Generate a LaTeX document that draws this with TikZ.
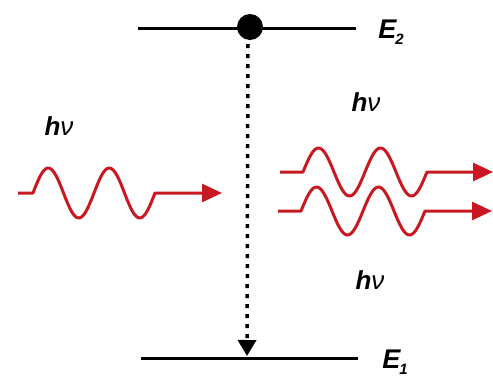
\documentclass[tikz,border=0pt]{standalone}
\usepackage{fontspec}
\setmainfont{Liberation Sans}
\usetikzlibrary{arrows.meta}
\definecolor{wavered}{RGB}{200,25,35}
\tikzset{
  level/.style={line width=3pt, black},
  wave/.style={line width=3pt, wavered, line join=round, -{Triangle[length=20pt,width=18pt]}},
  lab/.style={font=\fontsize{26}{26}\selectfont},
  elab/.style={font=\fontsize{27}{27}\selectfont\bfseries\itshape}
}
\begin{document}
\begin{tikzpicture}[x=1pt,y=-1pt]
\useasboundingbox (0,0) rectangle (493,381);
% levels
\coordinate (l2a) at (138,28); \coordinate (l2b) at (356,28);
\coordinate (l1a) at (141,358); \coordinate (l1b) at (358,358);
\draw[level] (l2a) -- (l2b);
\draw[level] (l1a) -- (l1b);
\node[elab] (E2) at (391,32) {E\kern-1pt\raisebox{-6pt}{\fontsize{15}{15}\selectfont 2}};
\node[elab] (E1) at (395,362) {E\kern-1pt\raisebox{-6pt}{\fontsize{15}{15}\selectfont 1}};
% electron
\node[circle, fill=black, minimum size=26pt, inner sep=0pt] (dot) at (250,27) {};
\coordinate (tip) at (247,356);
\draw[line width=3.5pt, dash pattern=on 4pt off 6pt, -{Triangle[length=16pt,width=18pt]}] (dot.south) ++(-2,4) -- (tip);
% incoming photon
\draw[wave] (18,193) -- (33,193)
  -- plot[domain=33:155, samples=80, smooth] (\x, {193-25*sin(5.9016*(\x-33))})
  -- (222,193);
% outgoing photons
\draw[wave] (280,172) -- (303,172)
  -- plot[domain=303:427, samples=80, smooth] (\x, {172-24*sin(5.8065*(\x-303))})
  -- (493,172);
\draw[wave] (278,211) -- (301,211)
  -- plot[domain=301:425, samples=80, smooth] (\x, {211-24*sin(5.8065*(\x-301))})
  -- (492,211);
% labels
\node[lab] (h1) at (59,126) {\textbf{\textit{h}}\textit{ν}};
\node[lab] (h2) at (366,102) {\textbf{\textit{h}}\textit{ν}};
\node[lab] (h3) at (370,280) {\textbf{\textit{h}}\textit{ν}};
\end{tikzpicture}
\end{document}
